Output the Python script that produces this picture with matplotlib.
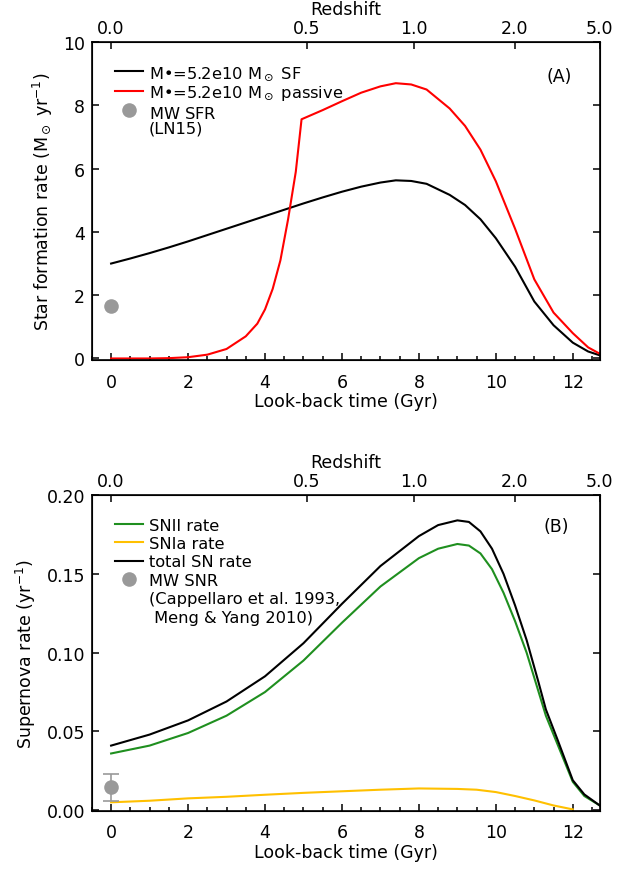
import matplotlib
matplotlib.use('Agg')
import matplotlib.pyplot as plt
from matplotlib.lines import Line2D
from matplotlib.ticker import MultipleLocator, FormatStrFormatter

plt.rcParams['font.family'] = ['DejaVu Sans']
plt.rcParams['mathtext.default'] = 'regular'
plt.rcParams['font.size'] = 12

# --- panel A: star formation rate ---
t_sf = [0, 0.5, 1, 1.5, 2, 2.5, 3, 3.5, 4, 4.5, 5, 5.5, 6, 6.5, 7, 7.4, 7.8,
        8.2, 8.8, 9.2, 9.6, 10, 10.5, 11, 11.5, 12, 12.4, 12.7]
sfr_sf = [3.0, 3.16, 3.33, 3.51, 3.70, 3.90, 4.10, 4.30, 4.50, 4.70, 4.90, 5.09,
          5.27, 5.43, 5.56, 5.63, 5.61, 5.52, 5.17, 4.85, 4.4, 3.8, 2.9, 1.8,
          1.05, 0.5, 0.22, 0.1]

t_pas = [0, 1, 1.5, 2, 2.5, 3, 3.5, 3.8, 4.0, 4.2, 4.4, 4.6, 4.8, 4.95, 5.5, 6,
         6.5, 7, 7.4, 7.8, 8.2, 8.8, 9.2, 9.6, 10, 10.5, 11, 11.5, 12, 12.4, 12.7]
sfr_pas = [0.0, 0.0, 0.01, 0.04, 0.12, 0.3, 0.7, 1.1, 1.55, 2.2, 3.1, 4.4, 5.9,
           7.56, 7.85, 8.13, 8.4, 8.6, 8.7, 8.66, 8.5, 7.9, 7.35, 6.6, 5.6, 4.1,
           2.5, 1.45, 0.8, 0.35, 0.15]

mw_sfr = 1.65

# --- panel B: supernova rates ---
t_sn = [0, 1, 2, 3, 4, 5, 6, 7, 8, 8.5, 9, 9.3, 9.6, 9.9, 10.2, 10.5, 10.8,
        11.1, 11.3, 11.6, 12, 12.3, 12.7]
snii = [0.036, 0.041, 0.049, 0.060, 0.075, 0.095, 0.119, 0.142, 0.160, 0.166,
        0.169, 0.168, 0.163, 0.153, 0.138, 0.120, 0.100, 0.076, 0.060, 0.042,
        0.018, 0.009, 0.003]
sn_tot = [0.041, 0.048, 0.057, 0.069, 0.085, 0.106, 0.131, 0.155, 0.174, 0.181,
          0.184, 0.183, 0.177, 0.166, 0.150, 0.130, 0.108, 0.082, 0.064, 0.045,
          0.019, 0.010, 0.003]

t_ia = [0, 1, 2, 3, 4, 5, 6, 7, 8, 9, 9.5, 10, 10.5, 11, 11.5, 12]
snia = [0.005, 0.006, 0.0075, 0.0085, 0.0098, 0.011, 0.012, 0.013, 0.0138,
        0.0135, 0.013, 0.0115, 0.009, 0.0062, 0.003, 0.0005]

mw_snr = 0.0145
mw_snr_err = 0.0085

# redshift axis
z_pos = [0, 5.09, 7.86, 10.49, 12.7]
z_labels = ['0.0', '0.5', '1.0', '2.0', '5.0']

green = '#1f8f1f'
gold = '#ffc000'
grey = '#999999'

fig = plt.figure(figsize=(6.38, 8.7), dpi=100)
axA = fig.add_axes([0.144, 0.585, 0.796, 0.3655])
axB = fig.add_axes([0.144, 0.0667, 0.796, 0.363])


def style(ax, ymaj, ymin):
    ax.set_xlim(-0.5, 12.7)
    ax.xaxis.set_major_locator(MultipleLocator(2))
    ax.xaxis.set_minor_locator(MultipleLocator(0.5))
    ax.yaxis.set_major_locator(MultipleLocator(ymaj))
    ax.yaxis.set_minor_locator(MultipleLocator(ymin))
    ax.tick_params(which='both', direction='in', top=False, right=True,
                   width=1.1, labelsize=12.5)
    ax.tick_params(which='major', length=5, pad=5)
    ax.tick_params(which='minor', length=3)
    ax.tick_params(axis='x', which='major', pad=9)
    for s in ax.spines.values():
        s.set_linewidth(1.2)
    ax.set_xlabel('Look-back time (Gyr)', fontsize=12.5, labelpad=1)
    top = ax.twiny()
    top.set_xlim(ax.get_xlim())
    top.set_xticks(z_pos)
    top.set_xticklabels(z_labels)
    top.minorticks_off()
    top.tick_params(direction='in', length=5, width=1.1, labelsize=12.5, pad=4)
    top.set_xlabel('Redshift', fontsize=12.5, labelpad=3)


# panel A
axA.plot(t_sf, sfr_sf, color='black', lw=1.5, label=r'M•=5.2e10 M$_\odot$ SF')
axA.plot(t_pas, sfr_pas, color='red', lw=1.5, label=r'M•=5.2e10 M$_\odot$ passive')
axA.plot([0], [mw_sfr], 'o', color=grey, ms=10.5, mec='none', label=r'MW SFR$_{\ }$')
axA.set_ylim(-0.05, 10)
style(axA, 2, 0.5)
axA.set_ylabel(r'Star formation rate (M$_\odot$ yr$^{-1}$)', fontsize=12.5, labelpad=6)
axA.legend(loc='upper left', bbox_to_anchor=(0.045, 0.932), frameon=False,
           borderpad=0, borderaxespad=0, handlelength=1.75, handletextpad=0.37,
           labelspacing=0.1, fontsize=11.7)
axA.text(0.111, 0.7296, '(LN15)', transform=axA.transAxes, ha='left',
         va='center', fontsize=11.7)
axA.text(0.921, 0.893, '(A)', transform=axA.transAxes, ha='center', va='center',
         fontsize=12.5)

# panel B
axB.plot(t_sn, snii, color=green, lw=1.5, label='SNII rate')
axB.plot(t_ia, snia, color=gold, lw=1.5, label='SNIa rate')
axB.plot(t_sn, sn_tot, color='black', lw=1.5, label='total SN rate')
axB.errorbar([0], [mw_snr], yerr=[mw_snr_err], fmt='o', color=grey, ms=10.5,
             mec='none', elinewidth=1.2, capsize=6, capthick=1.2, label='MW SNR')
axB.set_ylim(-0.0005, 0.2)
style(axB, 0.05, 0.01)
axB.yaxis.set_major_formatter(FormatStrFormatter('%.2f'))
axB.set_ylabel(r'Supernova rate (yr$^{-1}$)', fontsize=12.5, labelpad=6)
hB, lB = axB.get_legend_handles_labels()
hB = [hB[0], hB[1], hB[2], Line2D([], [], marker='o', linestyle='none', color=grey,
                                  ms=10.5, mec='none')]
lB = lB[:4]
hB += [Line2D([], [], linestyle='none'), Line2D([], [], linestyle='none')]
lB += ['(Cappellaro et al. 1993,', ' Meng & Yang 2010)']
axB.legend(hB, lB, loc='upper left', bbox_to_anchor=(0.045, 0.929), frameon=False,
           borderpad=0, borderaxespad=0, handlelength=1.75, handletextpad=0.37,
           labelspacing=0.21, fontsize=11.7)
axB.text(0.915, 0.902, '(B)', transform=axB.transAxes, ha='center', va='center',
         fontsize=12.5)

plt.savefig('out.png', dpi=100)
